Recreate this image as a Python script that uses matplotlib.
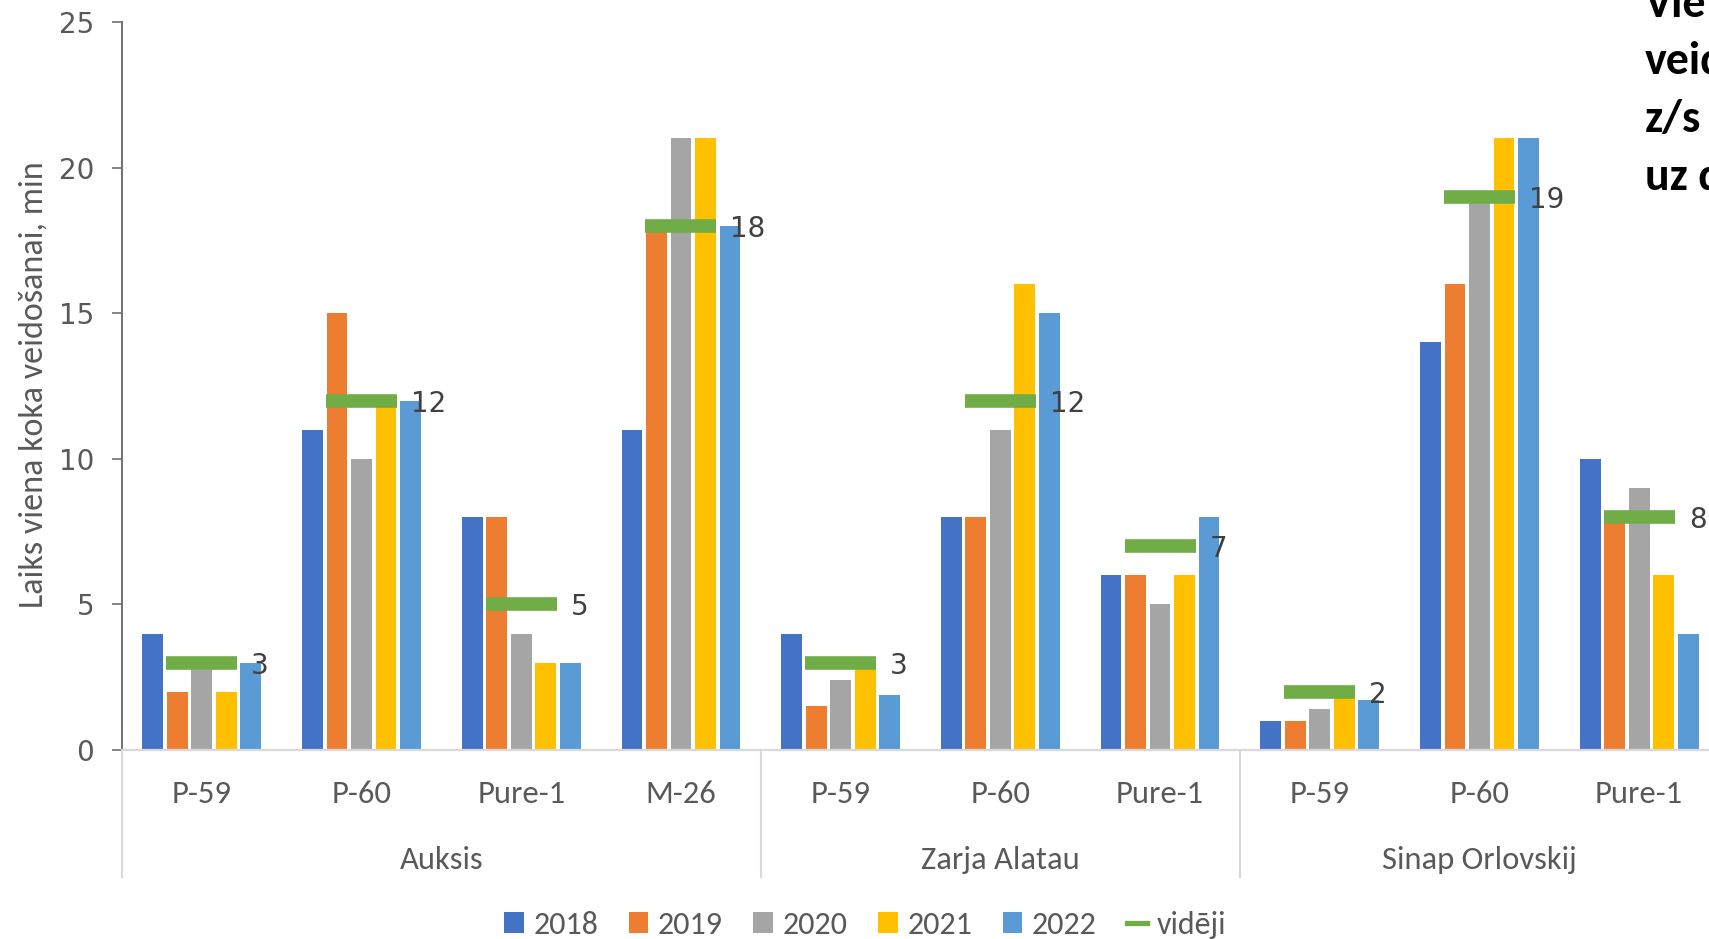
import numpy as np
import matplotlib
matplotlib.use("Agg")
import matplotlib.pyplot as plt
import matplotlib.transforms as mtransforms
from matplotlib.patches import Patch
from matplotlib.lines import Line2D
from matplotlib import font_manager

# ---------------- data ----------------
groups = ["Auksis", "Zarja Alatau", "Sinap Orlovskij"]
group_sizes = [4, 3, 3]
categories = ["P-59", "P-60", "Pure-1", "M-26",
              "P-59", "P-60", "Pure-1",
              "P-59", "P-60", "Pure-1"]
years = ["2018", "2019", "2020", "2021", "2022"]
v2018 = [4, 11, 8, 11, 4, 8, 6, 1, 14, 10]
v2019 = [2, 15, 8, 18, 1.5, 8, 6, 1, 16, 8]
v2020 = [2.8, 10, 4, 21, 2.4, 11, 5, 1.4, 19, 9]
v2021 = [2, 12, 3, 21, 2.8, 16, 6, 1.9, 21, 6]
v2022 = [3, 12, 3, 18, 1.9, 15, 8, 1.7, 21, 4]
avg_label = "vidēji"
avg = [3, 12, 5, 18, 3, 12, 7, 2, 19, 8]
ylabel = "Laiks viena koka veidošanai, min"
title_lines = ["Vie", "veid", "z/s", "uz d"]

# ---------------- style ----------------
colors = ["#4472C4", "#ED7D31", "#A5A5A5", "#FFC000", "#5B9BD5"]
green = "#70AD47"
txt_gray = "#595959"

names = {f.name for f in font_manager.fontManager.ttflist}
def pick(*cands):
    for c in cands:
        if c in names:
            return c
    return "DejaVu Sans"

COND = pick("Carlito", "Liberation Sans Narrow", "Roboto Condensed", "Liberation Sans")
WIDE = "DejaVu Sans"
if COND == "Carlito":
    fs_cat, fs_leg, fs_ylab, fs_title = 23.5, 23, 24.5, 33
elif COND == "Liberation Sans Narrow":
    fs_cat, fs_leg, fs_ylab, fs_title = 22, 22, 24, 30
else:
    fs_cat, fs_leg, fs_ylab, fs_title = 19, 19, 21, 28

W, H = 1709, 939
fig = plt.figure(figsize=(W / 100, H / 100), dpi=100)
fig.patch.set_facecolor("white")
ax = fig.add_axes([122 / W, (H - 750) / H, 1597 / W, 728 / H])

x = np.arange(len(categories)) + 0.5
pitch, bw = 0.1535, 0.13
series = [v2018, v2019, v2020, v2021, v2022]
for k, (lab, vals, col) in enumerate(zip(years, series, colors)):
    ax.bar(x + (k - 2) * pitch, vals, bw, color=col, label=lab, zorder=2)

ax.hlines(avg, x - 0.222, x + 0.222, colors=green, lw=9.8, zorder=3)
for xi, a in zip(x, avg):
    ax.text(xi + 0.31, a, f"{a:g}", ha="left", va="center_baseline",
            fontsize=20, color="#404040", family=WIDE, zorder=4)

ax.set_xlim(0, len(categories))
ax.set_ylim(0, 25)
ax.set_yticks(np.arange(0, 26, 5))
ax.set_xticks([])
ax.tick_params(axis="y", length=7, width=1.2, color="#707070", pad=13,
               labelsize=20, labelcolor=txt_gray)
for s in ["top", "right"]:
    ax.spines[s].set_visible(False)
ax.spines["left"].set_color("#707070")
ax.spines["left"].set_linewidth(1.4)
ax.spines["bottom"].set_color("#D9D9D9")
ax.spines["bottom"].set_linewidth(1.6)

trans = mtransforms.blended_transform_factory(ax.transData, ax.transAxes)
for xi, c in zip(x, categories):
    ax.text(xi, -44 / 728, c, transform=trans, ha="center", va="center",
            fontsize=fs_cat, color=txt_gray, family=COND)

bounds = np.concatenate([[0], np.cumsum(group_sizes)])
for g, a, b in zip(groups, bounds[:-1], bounds[1:]):
    ax.text((a + b) / 2, -110 / 728, g, transform=trans, ha="center", va="center",
            fontsize=fs_cat, color=txt_gray, family=COND)
for b in bounds:
    ax.plot([b, b], [0, -127 / 728], transform=trans, color="#D9D9D9",
            lw=1.5, clip_on=False, zorder=1)

fig.text(34 / W, (H - 385) / H, ylabel, rotation=90, ha="center", va="center",
         fontsize=fs_ylab, color=txt_gray, family=COND)

handles = [Patch(facecolor=c, edgecolor="none") for c in colors]
handles.append(Line2D([], [], color=green, lw=3.8))
leg = fig.legend(handles, years + [avg_label], loc="center",
                 bbox_to_anchor=(865 / W, 14 / H), ncol=6, frameon=False,
                 prop={"family": COND, "size": fs_leg},
                 handlelength=0.62, handleheight=0.62, handletextpad=0.3,
                 columnspacing=0.95, borderpad=0, borderaxespad=0,
                 labelcolor=txt_gray)

for i, t in enumerate(title_lines):
    fig.text(1645 / W, (H - (17 + 57.5 * i)) / H, t, ha="left", va="baseline",
             fontsize=fs_title, fontweight="bold", family=COND, color="black")

fig.savefig("out.png", dpi=100, facecolor="white")
